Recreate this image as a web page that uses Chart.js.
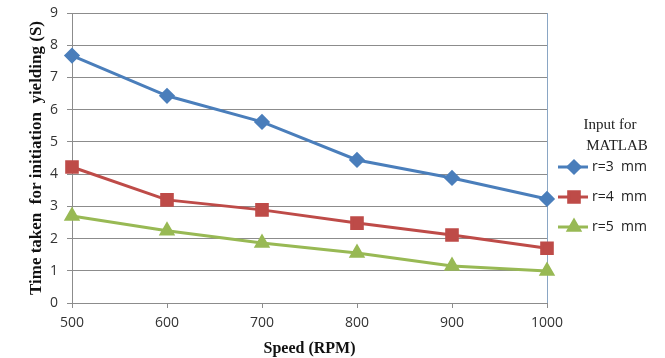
<!DOCTYPE html>
<html>
<head>
<meta charset="utf-8">
<script src="https://cdn.jsdelivr.net/npm/chart.js@4"></script>
<style>
  html, body { margin: 0; padding: 0; background: #fff; }
  #wrap { width: 665px; height: 358px; position: relative; }
</style>
</head>
<body>
<div id="wrap"><canvas id="c"></canvas></div>
<script>
const speeds = ["500", "600", "700", "800", "900", "1000"];
const r3 = [7.68, 6.43, 5.62, 4.44, 3.88, 3.23];
const r4 = [4.22, 3.20, 2.89, 2.48, 2.11, 1.70];
const r5 = [2.70, 2.24, 1.86, 1.55, 1.15, 0.99];
const yTicks = [0, 1, 2, 3, 4, 5, 6, 7, 8, 9];

const GRID = "#8c8c8c";
const SANS = "'Open Sans', 'Liberation Sans', sans-serif";
const SERIF = "'Liberation Serif', 'DejaVu Serif', serif";

const series = [
  { label: "r=3  mm", data: r3, color: "#4a7ebb", style: "rectRot", radius: 6 },
  { label: "r=4  mm", data: r4, color: "#be4b48", style: "rect", radius: 7.5 },
  { label: "r=5  mm", data: r5, color: "#98b954", style: "triangle", radius: 6.5 },
];

// legend on the right with the line + marker, like the Excel one
const sideLegend = {
  id: "sideLegend",
  afterDraw(chart) {
    const ctx = chart.ctx;
    const a = chart.chartArea;
    ctx.save();
    ctx.fillStyle = "#222";
    ctx.font = "15px " + SERIF;
    ctx.textAlign = "center";
    ctx.textBaseline = "middle";
    ctx.fillText("Input for", a.right + 63, 125);
    ctx.fillText("MATLAB", a.right + 70, 146);
    ctx.textAlign = "left";
    ctx.font = "14px " + SANS;
    series.forEach((s, i) => {
      const y = 167 + i * 30;
      ctx.strokeStyle = s.color;
      ctx.lineWidth = 3;
      ctx.beginPath();
      ctx.moveTo(a.right + 11, y);
      ctx.lineTo(a.right + 41, y);
      ctx.stroke();
      ctx.fillStyle = s.color;
      Chart.helpers.drawPoint(ctx, { pointStyle: s.style, radius: s.radius, borderWidth: 1 }, a.right + 27, y);
      ctx.fillStyle = "#222";
      ctx.fillText(s.label, a.right + 45, y);
    });
    ctx.restore();
  },
};

new Chart(document.getElementById("c"), {
  type: "line",
  data: {
    labels: speeds,
    datasets: series.map((s) => ({
      label: s.label, data: s.data,
      borderColor: s.color, backgroundColor: s.color,
      borderWidth: 3, pointStyle: s.style, pointRadius: s.radius,
      pointBorderColor: s.color, pointBackgroundColor: s.color,
      tension: 0, clip: false,
    })),
  },
  options: {
    responsive: true, maintainAspectRatio: false, animation: false,
    layout: { padding: { top: 13, right: 118, left: 26, bottom: 0 } },
    plugins: { legend: { display: false }, tooltip: { enabled: false } },
    scales: {
      x: {
        offset: false,
        afterFit: (s) => { s.height = 55; s.paddingLeft = 0; s.paddingRight = 0; },
        ticks: { color: "#333", font: { family: SANS, size: 14 }, padding: 7, maxRotation: 0 },
        grid: {
          color: (c) => (c.index === speeds.length - 1 ? "#8aa6c4" : "transparent"),
          tickColor: GRID, tickLength: 5,
        },
        border: { color: GRID },
        title: { display: true, text: "Speed (RPM)", color: "#111", font: { family: SERIF, size: 16, weight: "bold" }, padding: { top: 0, bottom: 0 } },
      },
      y: {
        min: 0, max: 9,
        afterFit: (s) => { s.width = 46; s.paddingTop = 0; s.paddingBottom = 0; },
        afterBuildTicks: (s) => { s.ticks = yTicks.map((v) => ({ value: v })); },
        ticks: { color: "#333", font: { family: SANS, size: 14 }, padding: 9 },
        grid: { color: GRID, tickColor: GRID, tickLength: 5 },
        border: { color: GRID },
        title: { display: true, text: "Time taken  for initiation  yielding (S)", color: "#111", font: { family: SERIF, size: 17, weight: "bold" }, padding: { top: 0, bottom: 0 } },
      },
    },
  },
  plugins: [sideLegend],
});
</script>
</body>
</html>
